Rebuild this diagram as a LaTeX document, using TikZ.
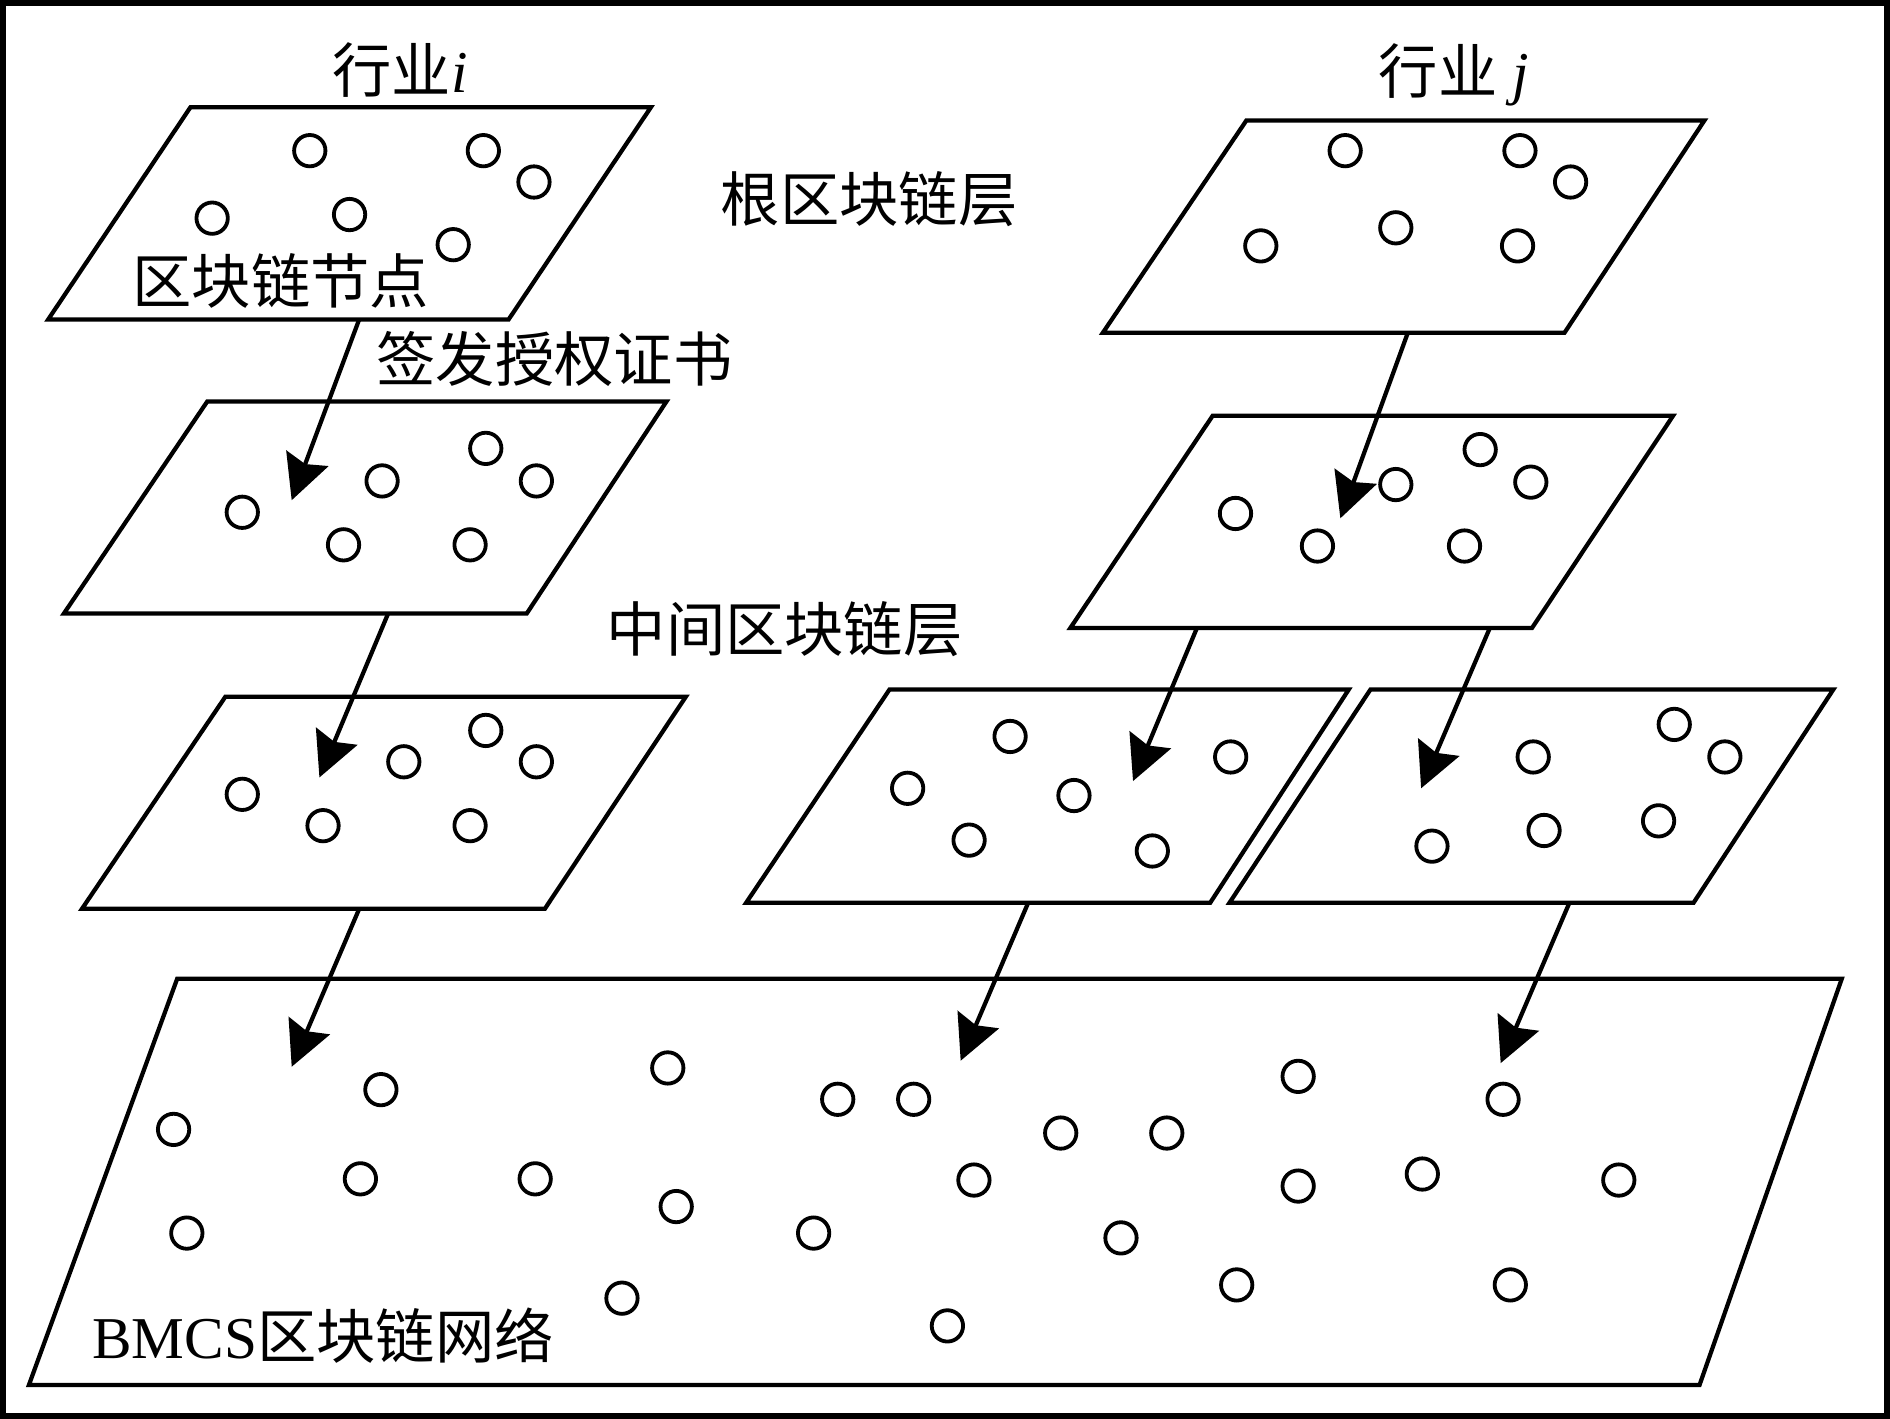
\documentclass[tikz,border=0pt]{standalone}
\usepackage{fontspec}
\setmainfont{Liberation Serif}
\newfontfamily\cjk{Noto Sans CJK SC}
\usepackage{tikz}
\usetikzlibrary{arrows.meta,calc}

\begin{document}
\begin{tikzpicture}[x=0.1mm,y=-0.1mm,line join=miter,
    every node/.style={font=\fontsize{14pt}{16pt}\selectfont,inner sep=0pt},
    layer/.style={line width=1pt},
    peer/.style={line width=0.9pt},
    cert/.style={line width=1pt,-{Stealth[length=3.7mm,width=3.7mm,inset=0.5mm]}}]
  \useasboundingbox (0,0) rectangle (1568,1177);
  \draw[line width=1.3pt] (2.3,2.3) rectangle (1565.7,1174.7);

  % Layers
  \draw[layer] (158,89) -- (540,89) -- (422,265) -- (40,265) -- cycle;       % i, root
  \draw[layer] (172,333) -- (553,333) -- (437,509) -- (53,509) -- cycle;     % i, middle
  \draw[layer] (187,578) -- (569,578) -- (452,754) -- (68,754) -- cycle;     % i, lower
  \draw[layer] (1034,100) -- (1414,100) -- (1298,276) -- (915,276) -- cycle; % j, root
  \draw[layer] (1006,345) -- (1388,345) -- (1271,521) -- (888,521) -- cycle; % j, middle
  \draw[layer] (738,572) -- (1119,572) -- (1004,749) -- (619,749) -- cycle;  % j, lower a
  \draw[layer] (1137,572) -- (1521,572) -- (1405,749) -- (1020,749) -- cycle;% j, lower b
  \draw[layer] (147,812) -- (1528,812) -- (1410,1149) -- (24,1149) -- cycle; % BMCS

  % Blockchain nodes
  \foreach \p in {(257,125),(401,125),(443,151),(176,181),(290,178),(376,203),
                  (201,425),(317,399),(403,372),(445,399),(285,452),(390,452),
                  (201,659),(335,632),(403,606),(445,632),(268,685),(390,685),
                  (1116,125),(1261,125),(1303,151),(1046,204),(1158,189),(1259,204),
                  (1025,426),(1158,402),(1228,373),(1270,400),(1093,453),(1215,453),
                  (838,611),(753,654),(891,660),(1021,628),(804,697),(956,706),
                  (1272,628),(1389,601),(1431,628),(1188,702),(1281,689),(1376,681),
                  (144,937),(316,904),(554,886),(695,912),(758,912),(1077,893),
                  (1247,912),(880,940),(968,940),(299,978),(444,978),(808,979),
                  (1077,984),(1180,974),(1343,979),(155,1023),(561,1001),(675,1023),
                  (930,1027),(1026,1066),(1253,1066),(516,1077),(786,1100)}
    \draw[peer] \p circle[radius=1.3mm];

  % Labels
  \node (indi) at (332,58) {{\cjk 行业}\textit{i}};
  \node (indj) at (1206,62) {{\cjk 行业} \textit{j}};
  \node (root) at (721,165) {\cjk 根区块链层};
  \node (peers) at (233,233) {\cjk 区块链节点};
  \node (issue) at (460,298) {\cjk 签发授权证书};
  \node (mid) at (651,522) {\cjk 中间区块链层};
  \node (bmcs) at (268,1108) {BMCS{\cjk 区块链网络}};

  % Certificate issuing
  \coordinate (s1) at (298,265);  \coordinate (t1) at (242,415);
  \coordinate (s2) at (322,509);  \coordinate (t2) at (265,645);
  \coordinate (s3) at (298,754);  \coordinate (t3) at (242,885);
  \coordinate (s4) at (1168,276); \coordinate (t4) at (1112,430);
  \coordinate (s5) at (993,521);  \coordinate (t5) at (940,648);
  \coordinate (s6) at (1236,521); \coordinate (t6) at (1179,654);
  \coordinate (s7) at (853,749);  \coordinate (t7) at (797,880);
  \coordinate (s8) at (1302,749); \coordinate (t8) at (1245,882);

  \foreach \k in {1,...,8}
    \draw[cert] (s\k) -- (t\k);
\end{tikzpicture}
\end{document}
